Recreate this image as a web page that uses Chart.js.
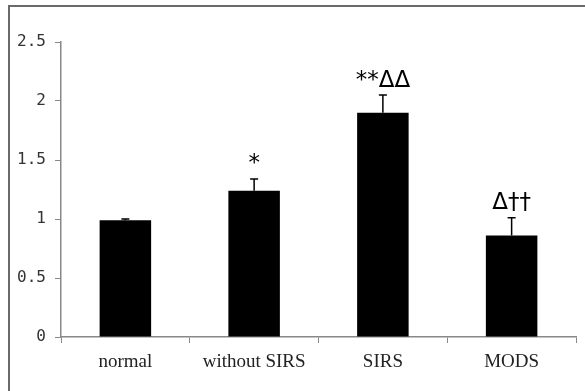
<!DOCTYPE html>
<html>
<head>
<meta charset="utf-8">
<script src="https://cdn.jsdelivr.net/npm/chart.js@4"></script>
<style>
  html, body { margin: 0; padding: 0; background: #fff; overflow: hidden; }
  canvas { display: block; }
</style>
</head>
<body>
<canvas id="myChart" width="585" height="391"></canvas>
<script>
const groups = ['normal', 'without SIRS', 'SIRS', 'MODS'];
const means = [0.99, 1.24, 1.90, 0.86];
const errors = [0.01, 0.10, 0.15, 0.15];
const marks = ['', '*', '**\u0394\u0394', '\u0394\u2020\u2020'];
const yTicks = [0, 0.5, 1, 1.5, 2, 2.5];

// outer frame: only top and left edges show in the picture
const frame = {
  id: 'frame',
  beforeDraw(chart) {
    const ctx = chart.ctx;
    ctx.save();
    ctx.strokeStyle = '#6a6a6a';
    ctx.lineWidth = 2;
    ctx.beginPath();
    ctx.moveTo(9, chart.height);
    ctx.lineTo(9, 6);
    ctx.lineTo(chart.width, 6);
    ctx.stroke();
    ctx.restore();
  }
};

// error bars and significance marks on top of each bar
const errorBars = {
  id: 'errorBars',
  afterDatasetsDraw(chart) {
    const ctx = chart.ctx;
    const x = chart.scales.x, y = chart.scales.y;
    ctx.save();
    ctx.strokeStyle = '#000';
    ctx.lineWidth = 1.5;
    means.forEach((m, i) => {
      const cx = x.getPixelForValue(i);
      const yTop = y.getPixelForValue(m + errors[i]);
      const yBar = y.getPixelForValue(m);
      ctx.beginPath();
      ctx.moveTo(cx, yBar);
      ctx.lineTo(cx, yTop);
      ctx.moveTo(cx - 4, yTop);
      ctx.lineTo(cx + 4, yTop);
      ctx.stroke();
      if (marks[i]) {
        ctx.fillStyle = '#000';
        ctx.font = '23px "DejaVu Sans"';
        ctx.textAlign = 'center';
        ctx.textBaseline = 'bottom';
        ctx.fillText(marks[i], cx, yTop - 3);
      }
    });
    ctx.restore();
  }
};

const ctx = document.getElementById('myChart').getContext('2d');
new Chart(ctx, {
  type: 'bar',
  data: {
    labels: groups,
    datasets: [{
      data: means,
      backgroundColor: '#000',
      borderWidth: 0,
      barPercentage: 0.4,
      categoryPercentage: 1
    }]
  },
  options: {
    responsive: false,
    animation: false,
    layout: { padding: { top: 42, right: 9, left: 0, bottom: 0 } },
    plugins: { legend: { display: false }, tooltip: { enabled: false } },
    scales: {
      x: {
        grid: { display: true, drawOnChartArea: false, offset: true, tickLength: 6, color: '#888' },
        border: { color: '#888', width: 1.5 },
        ticks: { color: '#222', padding: 8, font: { family: '"Liberation Serif"', size: 19 } },
        afterFit(scale) { scale.height = 54; }
      },
      y: {
        min: 0,
        max: 2.5,
        afterBuildTicks(scale) { scale.ticks = yTicks.map(v => ({ value: v })); },
        grid: { display: true, drawOnChartArea: false, tickLength: 6, color: '#888' },
        border: { color: '#888', width: 1.5 },
        ticks: {
          color: '#333', padding: 9,
          font: { family: '"DejaVu Sans Mono"', size: 16 },
          callback: v => String(v)
        },
        afterFit(scale) { scale.width = 61; }
      }
    }
  },
  plugins: [frame, errorBars]
});
</script>
</body>
</html>
